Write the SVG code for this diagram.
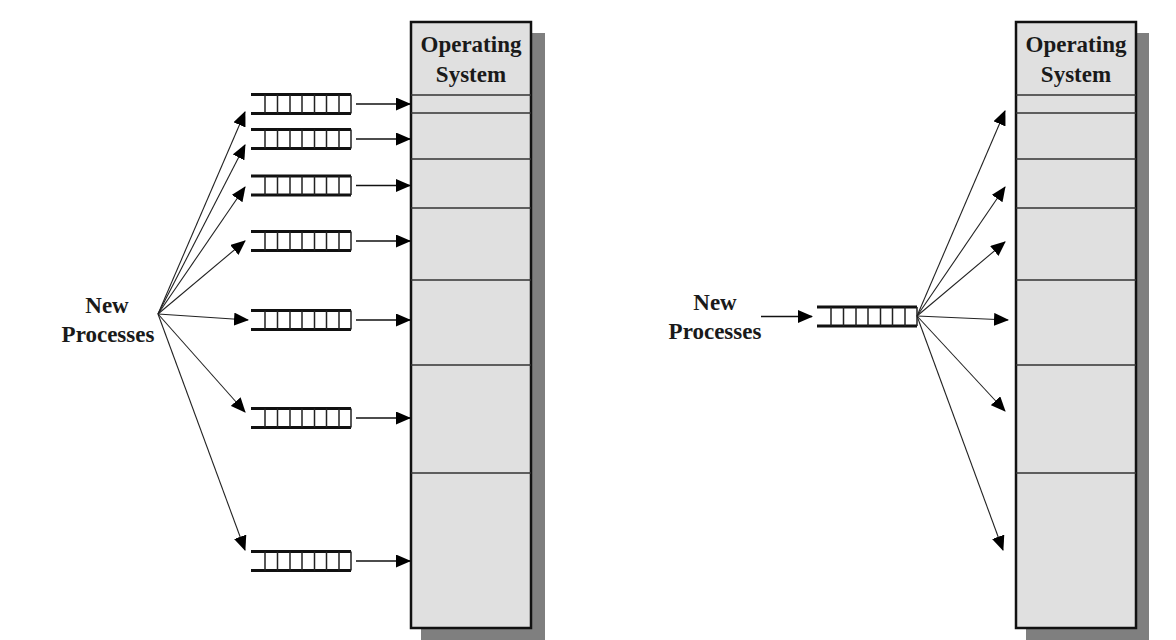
<svg xmlns="http://www.w3.org/2000/svg" width="1176" height="640" viewBox="0 0 1176 640">
<style>
.lbl{font-family:"Liberation Serif","Times New Roman",serif;font-weight:bold;font-size:23px;fill:#1a1a1a;text-anchor:middle}
.box{fill:#e0e0e0;stroke:#111;stroke-width:2.5}
.shadow{fill:#7f7f7f}
.div{stroke:#333;stroke-width:1.5}
.qh{stroke:#111;stroke-width:2.8;fill:none}
.qv{stroke:#222;stroke-width:1.5;fill:none}
.arr{stroke:#111;stroke-width:1.7;fill:none;marker-end:url(#ah)}
.fan{stroke:#222;stroke-width:1.1;fill:none;marker-end:url(#ah)}
</style>
<defs>
<marker id="ah" markerUnits="userSpaceOnUse" markerWidth="15" markerHeight="13" viewBox="0 0 15 13" refX="14" refY="6.5" orient="auto">
<path d="M0,0 L15,6.5 L0,13 Z" fill="#000"/>
</marker>
<g id="queue">
<path class="qh" d="M0,-9.5 H100 M0,9.5 H100"/>
<path class="qv" d="M14,-9.5 V9.5 M26.5,-9.5 V9.5 M39,-9.5 V9.5 M51,-9.5 V9.5 M63.5,-9.5 V9.5 M75.5,-9.5 V9.5 M88,-9.5 V9.5 M100,-9.5 V9.5"/>
</g>
</defs>
<rect width="1176" height="640" fill="#fff"/>

<g id="memory-left">
<rect class="shadow" x="421" y="33" width="124" height="610"/>
<rect class="box" x="411" y="22" width="120" height="606"/>
<line class="div" x1="411" y1="95" x2="531" y2="95"/>
<line class="div" x1="411" y1="113" x2="531" y2="113"/>
<line class="div" x1="411" y1="159" x2="531" y2="159"/>
<line class="div" x1="411" y1="208" x2="531" y2="208"/>
<line class="div" x1="411" y1="280" x2="531" y2="280"/>
<line class="div" x1="411" y1="365" x2="531" y2="365"/>
<line class="div" x1="411" y1="473" x2="531" y2="473"/>
<text class="lbl" x="471" y="52">Operating</text>
<text class="lbl" x="471" y="82">System</text>
</g>

<g id="memory-right">
<rect class="shadow" x="1026" y="33" width="123" height="610"/>
<rect class="box" x="1016" y="22" width="120" height="606"/>
<line class="div" x1="1016" y1="95" x2="1136" y2="95"/>
<line class="div" x1="1016" y1="113" x2="1136" y2="113"/>
<line class="div" x1="1016" y1="159" x2="1136" y2="159"/>
<line class="div" x1="1016" y1="208" x2="1136" y2="208"/>
<line class="div" x1="1016" y1="280" x2="1136" y2="280"/>
<line class="div" x1="1016" y1="365" x2="1136" y2="365"/>
<line class="div" x1="1016" y1="473" x2="1136" y2="473"/>
<text class="lbl" x="1076" y="52">Operating</text>
<text class="lbl" x="1076" y="82">System</text>
</g>

<g id="new-processes-left">
<text class="lbl" x="107" y="313">New</text>
<text class="lbl" x="108" y="342">Processes</text>
</g>

<g id="new-processes-right">
<text class="lbl" x="715" y="310">New</text>
<text class="lbl" x="715" y="339">Processes</text>
</g>

<g id="queues-left">
<use href="#queue" x="251" y="104"/>
<use href="#queue" x="251" y="139"/>
<use href="#queue" x="251" y="185.5"/>
<use href="#queue" x="251" y="241"/>
<use href="#queue" x="251" y="320"/>
<use href="#queue" x="251" y="418"/>
<use href="#queue" x="251" y="561"/>
</g>

<g id="queue-right">
<use href="#queue" x="817" y="316.5"/>
</g>

<g id="connectors">
<line class="arr" x1="356" y1="104" x2="410" y2="104"/>
<line class="arr" x1="356" y1="139" x2="410" y2="139"/>
<line class="arr" x1="356" y1="185.5" x2="410" y2="185.5"/>
<line class="arr" x1="356" y1="241" x2="410" y2="241"/>
<line class="arr" x1="356" y1="320" x2="410" y2="320"/>
<line class="arr" x1="356" y1="418" x2="410" y2="418"/>
<line class="arr" x1="356" y1="561" x2="410" y2="561"/>

<line class="fan" x1="158" y1="314" x2="245" y2="112"/>
<line class="fan" x1="158" y1="314" x2="245" y2="145"/>
<line class="fan" x1="158" y1="314" x2="245" y2="187"/>
<line class="fan" x1="158" y1="314" x2="245" y2="241"/>
<line class="fan" x1="158" y1="314" x2="248" y2="320"/>
<line class="fan" x1="158" y1="314" x2="245" y2="412"/>
<line class="fan" x1="158" y1="314" x2="245" y2="550"/>

<line class="arr" x1="761" y1="316.5" x2="812" y2="316.5"/>

<line class="fan" x1="917" y1="316" x2="1005" y2="111"/>
<line class="fan" x1="917" y1="316" x2="1005" y2="187"/>
<line class="fan" x1="917" y1="316" x2="1005" y2="242"/>
<line class="fan" x1="917" y1="316" x2="1008" y2="320"/>
<line class="fan" x1="917" y1="316" x2="1005" y2="411"/>
<line class="fan" x1="917" y1="316" x2="1003" y2="550"/>
</g>
</svg>
